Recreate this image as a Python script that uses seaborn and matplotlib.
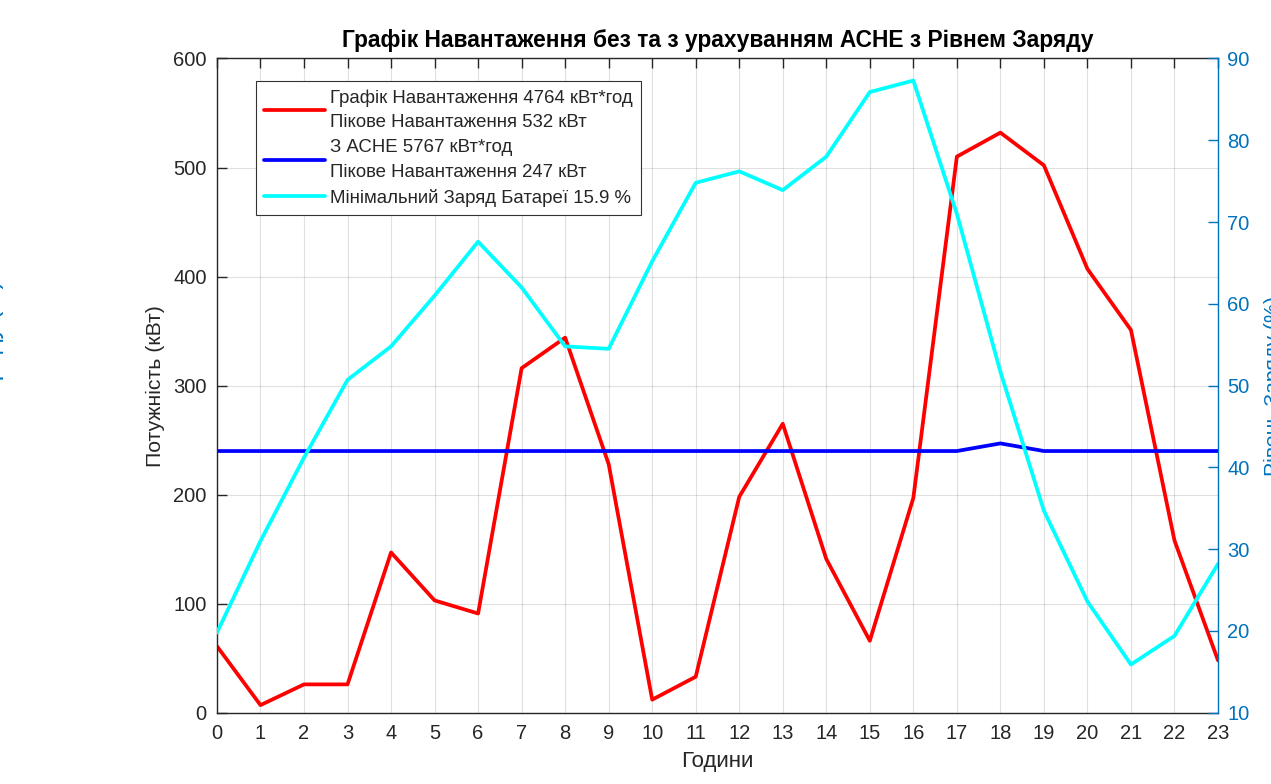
import numpy as np
import pandas as pd
import matplotlib
matplotlib.use("Agg")
import matplotlib.pyplot as plt
import seaborn as sns

# Дані з графіка
hours = list(range(24))
load_kw = [61, 7, 26, 26, 147, 103, 91, 316, 344, 228, 12, 33,
           198, 265, 141, 66, 197, 510, 532, 502, 407, 351, 158, 48]
ache_kw = [240, 240, 240, 240, 240, 240, 240, 240, 240, 240, 240, 240,
           240, 240, 240, 240, 240, 240, 247, 240, 240, 240, 240, 240]
soc_pct = [19.8, 31.0, 41.2, 50.7, 54.8, 61.0, 67.6, 62.0, 54.8, 54.5, 65.2, 74.8,
           76.2, 73.9, 78.0, 85.9, 87.3, 71.0, 51.7, 34.7, 23.6, 15.9, 19.4, 28.2]

left_ticks = [0, 100, 200, 300, 400, 500, 600]
right_ticks = [10, 20, 30, 40, 50, 60, 70, 80, 90]

lbl_load = "Графік Навантаження 4764 кВт*год\nПікове Навантаження 532 кВт"
lbl_ache = "З АСНЕ 5767 кВт*год\nПікове Навантаження 247 кВт"
lbl_soc = "Мінімальний Заряд Батареї 15.9 %"

sns.set_style("white")
plt.rcParams['font.family'] = ['Liberation Sans', 'DejaVu Sans']

df = pd.DataFrame({'h': hours, 'load': load_kw, 'ache': ache_kw, 'soc': soc_pct})

axis_blue = '#0072BD'
dark = '#262626'

fig = plt.figure(figsize=(12.71, 7.84), dpi=100)
ax = fig.add_axes([0.1707, 0.0909, 0.9583 - 0.1707, 0.9254 - 0.0909])
ax2 = ax.twinx()

sns.lineplot(data=df, x='h', y='load', ax=ax, color='#FF0000', linewidth=2.7, label=lbl_load)
sns.lineplot(data=df, x='h', y='ache', ax=ax, color='#0000FF', linewidth=2.7, label=lbl_ache)
sns.lineplot(data=df, x='h', y='soc', ax=ax2, color='#00FFFF', linewidth=2.7, label=lbl_soc)

ax.set_xlim(0, 23)
ax.set_ylim(0, 600)
ax.set_xticks(hours)
ax.set_yticks(left_ticks)
ax2.set_ylim(10, 90)
ax2.set_yticks(right_ticks)

ax.grid(True, color='#000000', alpha=0.12, linewidth=0.8)
ax.set_axisbelow(True)

ax.tick_params(axis='x', direction='in', length=7.5, width=1.0, top=True,
               labelsize=14.5, colors=dark, pad=8)
ax.tick_params(axis='y', direction='in', length=7.5, width=1.0, right=False,
               labelsize=14.5, colors=dark, pad=7.5)
ax2.tick_params(axis='y', direction='in', length=7.5, width=1.0,
                labelsize=14.5, colors=axis_blue, pad=6.5)

for s in ['left', 'bottom', 'top']:
    ax.spines[s].set_color(dark)
    ax.spines[s].set_linewidth(1.0)
ax.spines['right'].set_visible(False)
ax2.spines['right'].set_color(axis_blue)
ax2.spines['right'].set_linewidth(1.0)
for s in ['left', 'bottom', 'top']:
    ax2.spines[s].set_visible(False)

ax.set_title("Графік Навантаження без та з урахуванням АСНЕ з Рівнем Заряду",
             fontsize=16.4, fontweight='bold', pad=8, color='black')
ax.set_xlabel("Години", fontsize=16, color=dark, labelpad=6)
ax.set_ylabel("Потужність (кВт)", fontsize=15.3, color=dark, labelpad=6)
ax2.set_ylabel("Рівень Заряду (%)", fontsize=15.3, color=axis_blue)
ax2.yaxis.set_label_coords(1.046, 0.5)

# обрізаний підпис біля лівого краю
fig.text(0.0031, 0.508, "Рівень Заряду (%)", rotation=90, ha='right', va='center',
         fontsize=18, color=axis_blue)

h1, l1 = ax.get_legend_handles_labels()
h2, l2 = ax2.get_legend_handles_labels()
if ax.get_legend() is not None:
    ax.get_legend().remove()
leg = ax2.legend(h1 + h2, l1 + l2, loc='upper left', bbox_to_anchor=(0.039, 0.966),
                 fontsize=13.4, frameon=True, fancybox=False, framealpha=1,
                 edgecolor='#333333', handlelength=3.25, handletextpad=0.25,
                 labelspacing=0.42, borderpad=0.45, borderaxespad=0)
leg.get_frame().set_linewidth(0.8)
for t in leg.get_texts():
    t.set_linespacing(1.6)

fig.savefig("out.png", dpi=100)
